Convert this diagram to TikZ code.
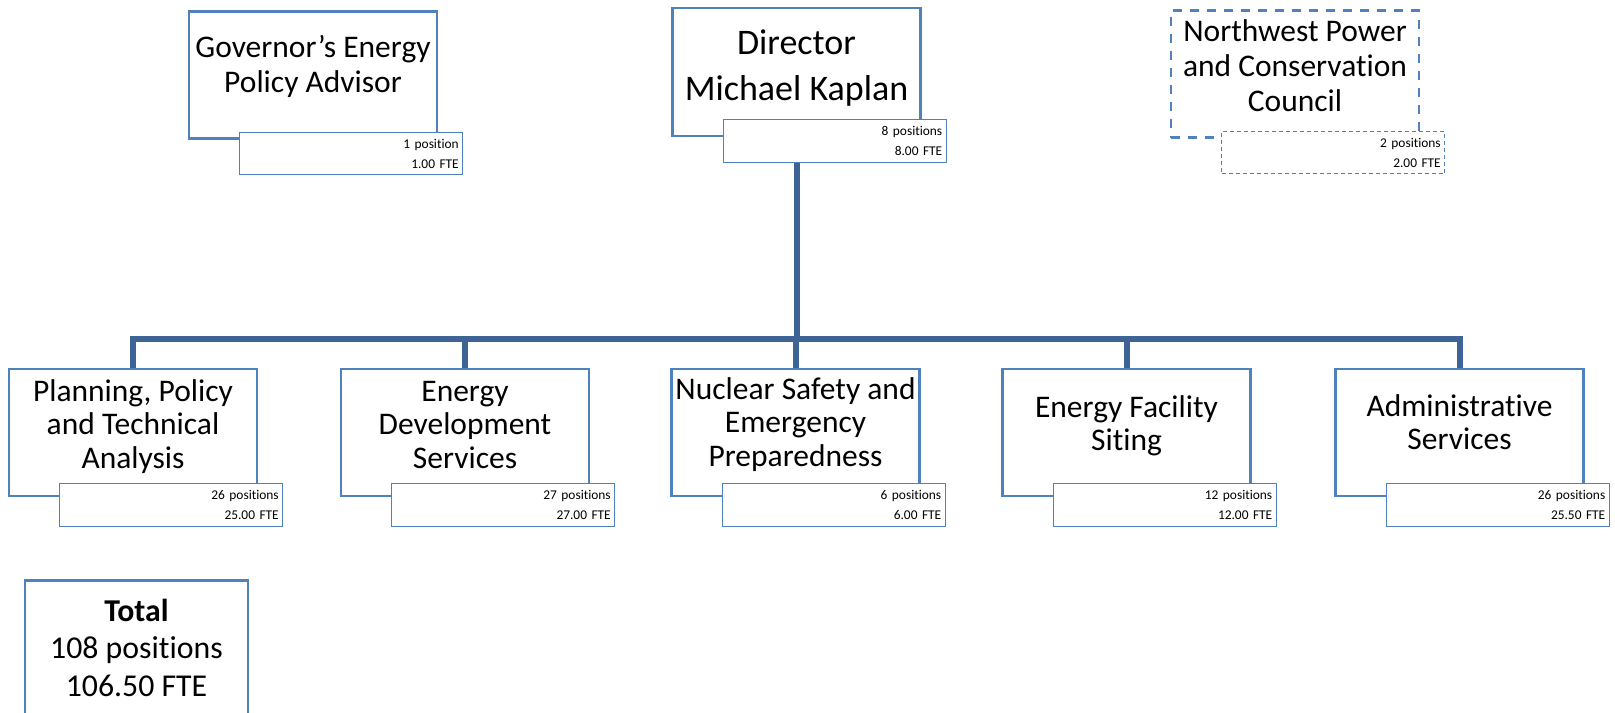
\documentclass[tikz,border=0pt]{standalone}
\usepackage{fontspec}
\setmainfont{Carlito}[Ligatures=NoCommon]
\usetikzlibrary{positioning}
\definecolor{boxblue}{RGB}{79,129,189}
\definecolor{linkblue}{RGB}{62,100,150}

\begin{document}
\begin{tikzpicture}[x=0.5pt,y=-0.5pt]
	\tikzstyle{unit} = [draw=boxblue, line width=1.25pt, fill=white, minimum width=124pt, minimum height=63.5pt, inner sep=0]
	\tikzstyle{heading} = [align=center, inner sep=0, font=\fontsize{15.75pt}{17.5pt}\selectfont]
	\tikzstyle{fte} = [draw=boxblue, line width=0.5pt, fill=white, minimum width=111.5pt, minimum height=21.25pt, text width=107.5pt, inner xsep=2pt, inner ysep=0, align=right, font=\fontsize{6.7pt}{10pt}\selectfont]
	\tikzstyle{link} = [draw=linkblue, line width=3pt]
	\tikzstyle{loose} = [dash pattern=on 4.5pt off 4pt]

	\clip (0,0) rectangle (1615,712);
	\fill [white] (0,0) rectangle (1615,712);

	% top row
	\node [unit] (gov) at (313,75) {};
	\node [heading] (govtext) at ([yshift=4.5pt]gov.center) {Governor’s Energy\\Policy Advisor};
	\node [unit, minimum height=64pt] (dir) at (796.5,72) {};
	\node [heading, font=\fontsize{18pt}{23.3pt}\selectfont] (dirtext) at ([yshift=2pt]dir.center) {Director\\Michael Kaplan};
	\node [unit, loose] (nw) at (1295,74) {};
	\node [heading] (nwtext) at ([yshift=4pt]nw.center) {Northwest Power\\and Conservation\\Council};

	% divisions
	\tikzstyle{heading} = [align=center, inner sep=0, font=\fontsize{15.75pt}{16.6pt}\selectfont]
	\node [unit] (plan) at (133,432.5) {};
	\node [heading] (plantext) at ([yshift=3pt]plan.center) {Planning, Policy\\and Technical\\Analysis};
	\node [unit] (dev) at (465,432.5) {};
	\node [heading] (devtext) at ([yshift=3.75pt]dev.center) {Energy\\Development\\Services};
	\node [unit] (nuc) at (795.5,432.5) {};
	\node [heading] (nuctext) at ([yshift=4pt]nuc.center) {Nuclear Safety and\\Emergency\\Preparedness};
	\node [unit] (site) at (1126.5,432.5) {};
	\node [heading] (sitetext) at ([yshift=3.5pt]site.center) {Energy Facility\\Siting};
	\node [unit] (adm) at (1459.5,432.5) {};
	\node [heading] (admtext) at ([yshift=5pt]adm.center) {Administrative\\Services};

	\coordinate (bus) at (796.5,339);
	\draw [link] (dir.south) -- (bus);
	\foreach \d in {plan,dev,nuc,site,adm}
		\draw [link] (bus) -| (\d.north);

	% position counts
	\node [fte, below left=-4pt and -12.5pt of gov.south east] (govfte) {1 position\\1.00 FTE};
	\node [fte, below left=-9pt and -12.5pt of dir.south east] (dirfte) {8 positions\\8.00 FTE};
	\node [fte, dash pattern=on 2pt off 1.5pt, below left=-4pt and -12.5pt of nw.south east] (nwfte) {2 positions\\2.00 FTE};
	\node [fte, below left=-7pt and -12.5pt of plan.south east] (planfte) {26 positions\\25.00 FTE};
	\node [fte, below left=-7pt and -12.5pt of dev.south east] (devfte) {27 positions\\27.00 FTE};
	\node [fte, below left=-7pt and -12.5pt of nuc.south east] (nucfte) {6 positions\\6.00 FTE};
	\node [fte, below left=-7pt and -12.5pt of site.south east] (sitefte) {12 positions\\12.00 FTE};
	\node [fte, below left=-7pt and -12.5pt of adm.south east] (admfte) {26 positions\\25.50 FTE};

	% total
	\node [unit, anchor=north, minimum width=111.5pt, minimum height=75pt] (total) at (136.5,579) {};
	\node [heading, below=10pt of total.north, font=\fontsize{15.9pt}{18.6pt}\selectfont] (totaltext) {\textbf{Total}\\108 positions\\106.50 FTE};
\end{tikzpicture}
\end{document}
